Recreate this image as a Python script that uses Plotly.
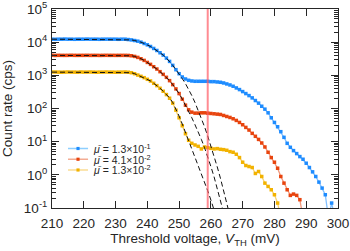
import plotly.graph_objects as go

# ---------------- data ----------------
v_blue = list(range(210, 300))
c_blue = [12300, 12200, 12300, 12300, 12400, 12300, 12300, 12200, 12300, 12300,
          12300, 12400, 12300, 12300, 12300, 12200, 12300, 12300, 12300, 12300,
          12300, 12200, 12300, 12300,
          12000, 11700, 11200, 10700, 10000, 9120, 8320, 7410, 6460, 5620,
          4790, 4070, 3310, 2630, 2000, 1480, 1120, 891, 776, 708,
          676, 661, 661, 661, 661, 661, 646, 646, 631, 617,
          589, 550, 513, 468, 417, 372, 324, 282, 245, 209,
          174, 145, 117, 95.5, 74.1, 52.5, 38.0, 28.2, 20.0, 13.5,
          8.91, 6.76, 5.37, 4.37, 3.55, 2.95, 2.24, 1.66, 1.23, 0.891,
          0.603, 0.398, 0.251, 0.05, 0.141, 0.05]

v_red = list(range(210, 290))
c_red = [4000, 3980, 4010, 4000, 3990, 4000, 4020, 4000, 3990, 4000,
         4000, 4010, 3990, 4000, 4000, 3980, 4000, 4010, 4000, 4000,
         3990, 4000, 4000, 4000, 3980,
         3890, 3720, 3470, 3160, 2820, 2450, 2140, 1820, 1550, 1290,
         1070, 871, 692, 525, 389, 282, 191, 126, 91.2, 77.6,
         72.4, 72.4, 74.1, 74.1, 72.4, 70.8, 69.2, 67.6, 66.1, 61.7,
         57.5, 53.7, 49.0, 43.7, 38.0, 32.4, 26.9, 22.4, 17.8, 14.5,
         11.7, 9.12, 6.92, 4.79, 3.31, 2.40, 1.58, 0.891, 0.562, 0.355,
         0.240, 0.263, 0.240, 0.178, 0.05]

v_yel = list(range(210, 283))
c_yel = [1250, 1260, 1250, 1240, 1250, 1260, 1250, 1250, 1240, 1260,
         1250, 1250, 1260, 1250, 1240, 1250, 1250, 1260, 1250, 1250,
         1240, 1250, 1250, 1260, 1240,
         1200, 1120, 1020, 933, 851, 759, 676, 575, 490, 407,
         331, 263, 204, 145, 89.1, 52.5, 30.2, 17.4, 11.0, 8.91,
         7.94, 7.24, 6.03, 6.92, 6.61, 6.31, 6.03, 6.17, 5.89, 5.75,
         5.50, 5.01, 4.79, 4.17, 3.31, 2.40, 1.91, 1.78, 1.66, 1.10,
         1.26, 0.891, 0.562, 0.447, 0.355, 0.251, 0.141, 0.05]

# fitted curves (dashed black)
fv_blue = list(range(210, 267))
fc_blue = [12300] * 24 + [
    12000, 11700, 11200, 10700, 10000, 9120, 8320, 7410, 6460, 5620,
    4790, 4070, 3310, 2630, 2000, 1480, 1120,
    794, 562, 380, 245, 151, 89.1, 51.3, 28.2, 14.8, 7.59,
    3.72, 1.74, 0.794, 0.347, 0.145, 0.0575]

fv_red = list(range(210, 265))
fc_red = [3990] * 25 + [
    3890, 3720, 3470, 3160, 2820, 2450, 2140, 1820, 1550, 1290,
    1070, 871, 692, 525, 389, 282, 191, 126,
    83.2, 52.5, 32.4, 20.0, 11.7, 6.61, 3.55, 1.78, 0.871, 0.398,
    0.174, 0.0724]

fv_yel = list(range(210, 262))
fc_yel = [1250] * 25 + [
    1200, 1120, 1020, 933, 851, 759, 676, 575, 490, 407,
    331, 263, 209, 151, 97.7, 58.9, 33.9, 19.1, 11.0, 6.31,
    3.63, 2.09, 1.15, 0.631, 0.331, 0.174, 0.0871]

labels = ["<i>μ̄</i> = 1.3×10<sup>-1</sup>",
          "<i>μ̄</i> = 4.1×10<sup>-2</sup>",
          "<i>μ̄</i> = 1.3×10<sup>-2</sup>"]
threshold_mv = 259

y_tickvals = [0.1, 1, 10, 100, 1000, 10000, 100000]
y_ticktext = ["10<sup>-1</sup>", "10<sup>0</sup>", "10<sup>1</sup>", "10<sup>2</sup>",
              "10<sup>3</sup>", "10<sup>4</sup>", "10<sup>5</sup>"]
x_tickvals = list(range(210, 301, 10))

# ---------------- styles ----------------
FONT = "Liberation Sans, Arial, sans-serif"
INK = "#262626"
cols = ["#1e8cff", "#e8440e", "#f2b200"]
line_cols = ["rgba(30,140,255,0.55)", "rgba(232,68,14,0.55)", "rgba(242,178,0,0.55)"]
legend_line_cols = ["rgba(30,160,255,0.5)", "rgba(232,90,40,0.5)", "rgba(245,185,40,0.5)"]

fig = go.Figure()

for vx, cy, col, lcol, lab in zip([v_blue, v_red, v_yel], [c_blue, c_red, c_yel],
                                   cols, line_cols, labels):
    fig.add_trace(go.Scatter(x=vx, y=cy, mode="lines+markers", name=lab,
                             showlegend=False,
                             line=dict(color=lcol, width=1.3),
                             marker=dict(color=col, size=3.5, symbol="square",
                                         line=dict(width=0))))

for fx, fy in zip([fv_blue, fv_red, fv_yel], [fc_blue, fc_red, fc_yel]):
    fig.add_trace(go.Scatter(x=fx, y=fy, mode="lines", showlegend=False,
                             line=dict(color="#111111", width=1, dash="5px,3px"),
                             hoverinfo="skip"))

fig.add_shape(type="line", x0=threshold_mv, x1=threshold_mv, y0=0, y1=1,
              xref="x", yref="paper",
              line=dict(color="rgba(255,90,100,0.7)", width=2))

# ---- custom legend (compact, as in the reference) ----
leg_x0, leg_x1, leg_txt = 0.056, 0.126, 0.138
leg_y0, leg_dy = 0.299, 0.054
for i, (lab, col, lcol) in enumerate(zip(labels, cols, legend_line_cols)):
    yy = leg_y0 - i * leg_dy
    fig.add_shape(type="line", xref="paper", yref="paper",
                  x0=leg_x0, x1=leg_x1, y0=yy, y1=yy,
                  line=dict(color=lcol, width=1.5))
    xm = (leg_x0 + leg_x1) / 2
    fig.add_shape(type="rect", xref="paper", yref="paper",
                  x0=xm - 0.0055, x1=xm + 0.0055, y0=yy - 0.008, y1=yy + 0.008,
                  fillcolor=col, line=dict(width=0))
    fig.add_annotation(xref="paper", yref="paper", x=leg_txt, y=yy,
                       xanchor="left", yanchor="middle", showarrow=False,
                       text=lab, font=dict(size=10.5, color=INK))

fig.update_layout(
    width=350, height=251,
    margin=dict(l=52, r=12, t=9, b=43, autoexpand=False),
    paper_bgcolor="white", plot_bgcolor="white",
    font=dict(family=FONT, size=13.5, color=INK),
    showlegend=False,
)

fig.update_xaxes(range=[210, 300], tickvals=x_tickvals, ticks="inside", ticklen=7,
                 tickcolor=INK, showline=True, linecolor=INK, linewidth=1,
                 mirror="ticks", showgrid=False, zeroline=False, automargin=False,
                 tickfont=dict(size=13.5), ticklabelstandoff=3,
                 ticklabeloverflow="allow",
                 title=dict(text="Threshold voltage, <i>V</i><sub>TH</sub> (mV)",
                            font=dict(size=13.5), standoff=0))

fig.update_yaxes(type="log", range=[-1, 5], tickvals=y_tickvals, ticktext=y_ticktext,
                 ticks="inside", ticklen=7, tickcolor=INK, showline=True,
                 linecolor=INK, linewidth=1, mirror="allticks", showgrid=False,
                 zeroline=False, automargin=False,
                 tickfont=dict(size=13.5), ticklabelstandoff=1,
                 ticklabeloverflow="allow",
                 minor=dict(ticks="inside", ticklen=4, tickcolor=INK, dtick="D1",
                            showgrid=False),
                 title=dict(text="Count rate (cps)", font=dict(size=13.5), standoff=13))

# remove the page's default 8 px body margin so the figure fills the window
fig.write_html("out.html", config={"displayModeBar": False},
               post_script="document.body.style.margin='0px';")
